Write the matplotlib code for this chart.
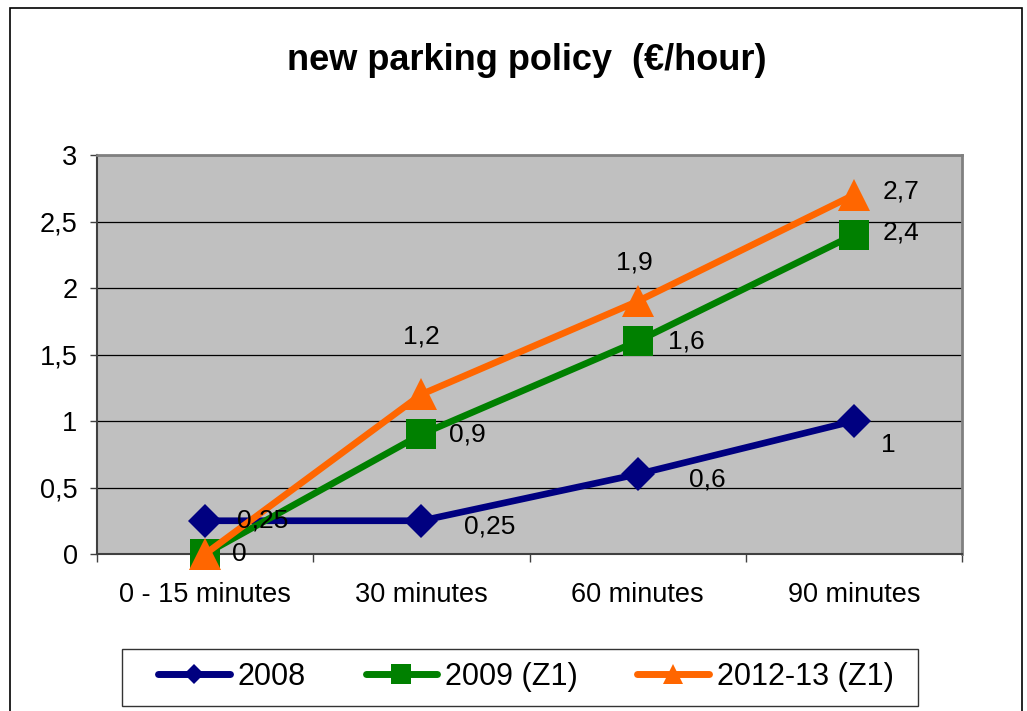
import matplotlib
matplotlib.use("Agg")
import matplotlib.pyplot as plt
from matplotlib.lines import Line2D
from matplotlib.patches import Rectangle
from matplotlib.ticker import FixedLocator, NullFormatter, FixedFormatter

plt.rcParams['font.family'] = ['Liberation Sans', 'DejaVu Sans']

# ---- data ----
categories = ['0 - 15 minutes', '30 minutes', '60 minutes', '90 minutes']
series_names = ['2008', '2009 (Z1)', '2012-13 (Z1)']
values_2008 = [0.25, 0.25, 0.6, 1]
values_2009 = [0, 0.9, 1.6, 2.4]
values_2012 = [0, 1.2, 1.9, 2.7]
y_ticks = [0, 0.5, 1, 1.5, 2, 2.5, 3]
y_tick_labels = ['0', '0,5', '1', '1,5', '2', '2,5', '3']
title = 'new parking policy  (\u20ac/hour)'

# ---- styles ----
colors = ['#000080', '#008000', '#FF6600']
markers = ['D', 's', '^']
marker_sizes = [17.3, 20.9, 23]
legend_marker_sizes = [10.5, 14, 15]
# label placement (dx px, dy px, ha) per point; None = hidden
label_offsets = [
    [(32, 0, 'left'), (43, -6, 'left'), (51, -5, 'left'), (27, -24, 'left')],
    [(27, 0, 'left'), (28, 0, 'left'), (30, 0, 'left'), (29, 2, 'left')],
    [None, (0, 58, 'center'), (-3, 39, 'center'), (29, 3, 'left')],
]

W, H = 1027, 711
fig = plt.figure(figsize=(W / 100, H / 100), dpi=100)
ax = fig.add_axes([97 / W, 1 - 554 / H, (962 - 97) / W, (554 - 155) / H])
ax.set_facecolor('#C0C0C0')

x = list(range(len(categories)))
all_values = [values_2008, values_2009, values_2012]
for i, vals in enumerate(all_values):
    ax.plot(x, vals, color=colors[i], lw=4.8, marker=markers[i],
            markersize=marker_sizes[i], markeredgewidth=0,
            clip_on=False, zorder=3 + i, solid_capstyle='round')

for i, vals in enumerate(all_values):
    for j, v in enumerate(vals):
        off = label_offsets[i][j]
        if off is None:
            continue
        dx, dy, ha = off
        ax.annotate(f"{v:g}".replace('.', ','), (x[j], v),
                    xytext=(dx, dy), textcoords='offset pixels',
                    ha=ha, va='center', fontsize=19, color='black',
                    zorder=10, annotation_clip=False)

ax.set_xlim(-0.5, len(categories) - 0.5)
ax.set_ylim(0, 3)

# y axis
ax.set_yticks(y_ticks)
ax.set_yticklabels(y_tick_labels, fontsize=19.5)
ax.tick_params(axis='y', length=5, width=1, color='#404040', pad=9)
ax.yaxis.grid(True, color='black', lw=0.9)
ax.set_axisbelow(True)

# x axis: ticks between categories, labels centered
ax.xaxis.set_major_locator(FixedLocator([k - 0.5 for k in range(len(categories) + 1)]))
ax.xaxis.set_major_formatter(NullFormatter())
ax.xaxis.set_minor_locator(FixedLocator(x))
ax.xaxis.set_minor_formatter(FixedFormatter(categories))
ax.tick_params(axis='x', which='major', length=5.5, width=1, color='#404040')
ax.tick_params(axis='x', which='minor', length=0, labelsize=19.5, pad=20.5)

for s in ['top', 'right']:
    ax.spines[s].set_color('#808080')
    ax.spines[s].set_linewidth(2)
for s in ['left', 'bottom']:
    ax.spines[s].set_color('#404040')
    ax.spines[s].set_linewidth(1.5)

fig.text(0.513, 1 - 70 / H, title, ha='center', va='baseline',
         fontsize=26, fontweight='bold')

handles = [Line2D([0], [0], color=colors[i], lw=5, marker=markers[i],
                  markersize=legend_marker_sizes[i], markeredgewidth=0,
                  solid_capstyle='round')
           for i in range(len(series_names))]
leg = fig.legend(handles, series_names, loc='center', ncol=3,
                 bbox_to_anchor=(526 / W, 1 - 677 / H), fontsize=22,
                 frameon=False, handlelength=2.35, handletextpad=0.25,
                 columnspacing=1.95, borderpad=0)

# legend frame
fig.add_artist(Rectangle((122 / W, 1 - 706 / H), (918 - 122) / W, (706 - 649) / H,
                         transform=fig.transFigure, fill=False,
                         edgecolor='#333333', lw=1))

# chart border
fig.add_artist(Rectangle((10 / W, -0.05), (1022 - 10) / W, 1.05 - 8 / H,
                         transform=fig.transFigure, fill=False,
                         edgecolor='black', lw=1.2, clip_on=False))

fig.savefig('out.png', dpi=100)
